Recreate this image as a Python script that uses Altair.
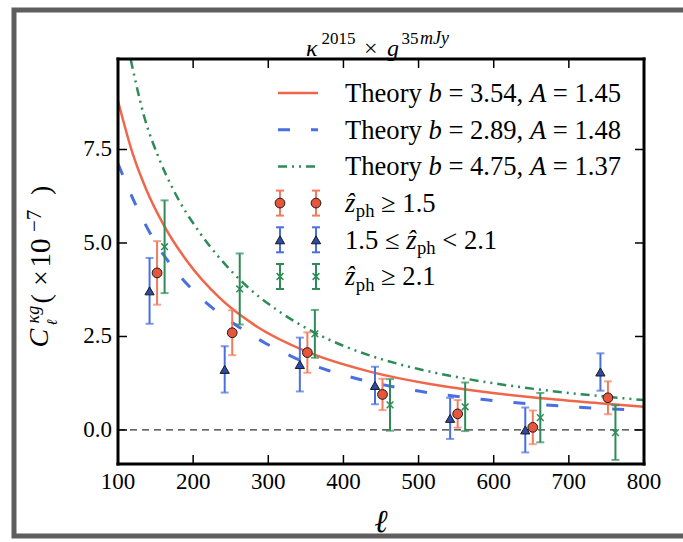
import altair as alt
import pandas as pd

# ---------------- data ----------------
ell_red = [152, 252, 352, 452, 552, 652, 752]
cl_red = [4.20, 2.60, 2.07, 0.95, 0.43, 0.07, 0.86]
err_red = [0.85, 0.60, 0.54, 0.42, 0.37, 0.45, 0.44]

ell_blue = [142, 242, 342, 442, 542, 642, 742]
cl_blue = [3.72, 1.62, 1.75, 1.19, 0.31, 0.00, 1.55]
err_blue = [0.88, 0.62, 0.72, 0.50, 0.55, 0.60, 0.50]

ell_green = [162, 262, 362, 462, 562, 662, 762]
cl_green = [4.90, 3.77, 2.57, 0.67, 0.62, 0.33, -0.07]
err_green = [1.24, 0.95, 0.64, 0.69, 0.65, 0.66, 0.73]

th_ell_red = [100, 120, 138, 162, 191, 236, 280, 353, 435, 515, 568, 657, 745, 800]
th_red = [8.80, 7.36, 6.41, 5.44, 4.54, 3.52, 2.83, 2.08, 1.56, 1.23, 1.07, 0.86, 0.71, 0.62]

th_ell_blue = [100, 125, 147, 174, 200, 236, 262, 298, 333, 380, 422, 500, 584, 713, 800]
th_blue = [7.12, 5.96, 5.11, 4.32, 3.73, 3.10, 2.74, 2.30, 1.95, 1.59, 1.35, 1.04, 0.82, 0.61, 0.52]

th_ell_green = [117, 135, 154, 174, 209, 236, 271, 313, 360, 400, 440, 500, 555, 657, 745, 800]
th_green = [9.90, 8.37, 7.29, 6.41, 5.27, 4.58, 3.85, 3.19, 2.62, 2.25, 1.96, 1.63, 1.40, 1.09, 0.90, 0.80]

x_ticks = [100, 200, 300, 400, 500, 600, 700, 800]
y_ticks = [0.0, 2.5, 5.0, 7.5]

legend_theory = [("3.54", "1.45"), ("2.89", "1.48"), ("4.75", "1.37")]

# ---------------- styling ----------------
FONT = "Liberation Serif"
W, H = 526, 405
RED, RED_ERR, RED_FILL = "#f0664a", "#f27a5f", "#e9553a"
BLUE, BLUE_FILL = "#4a6fe0", "#2c4aa6"
GREEN = "#2e8b57"
EDGE = "#1a1a1a"
DASH_BLUE = [12, 21]
DASH_GREEN = [9, 5, 2, 5, 2, 5]
X_SHAPE = "M-1,-1L1,1M-1,1L1,-1"

XS = alt.Scale(domain=[100, 800], nice=False, zero=False)
YS = alt.Scale(domain=[-0.91, 9.92], nice=False, zero=False)


def X(field="ell"):
    return alt.X(f"{field}:Q", scale=XS, axis=None)


def Y(field):
    return alt.Y(f"{field}:Q", scale=YS, axis=None)


one = pd.DataFrame({"k": [0]})
xt_df = pd.DataFrame({"ell": x_ticks})
yt_df = pd.DataFrame({"cl": y_ticks})
layers = []

# outer grey frame (screenshot border)
layers.append(alt.Chart(one).mark_rect(fillOpacity=0, stroke="#5e5e5e", strokeWidth=5).encode(
    x=alt.value(-104), x2=alt.value(620), y=alt.value(-49), y2=alt.value(477)))

# zero line
layers.append(alt.Chart(one).mark_rule(color="#333333", strokeWidth=1.2, strokeDash=[7, 5]).encode(
    x=alt.value(0), x2=alt.value(W), y=alt.datum(0, scale=YS, axis=None)))

# theory curves
def curve(ell, val, color, dash=None, width=2.5):
    df = pd.DataFrame({"ell": ell, "cl": val})
    kw = dict(color=color, strokeWidth=width, clip=True, interpolate="monotone")
    if dash:
        kw["strokeDash"] = dash
    return alt.Chart(df).mark_line(**kw).encode(x=X(), y=Y("cl"))

layers.append(curve(th_ell_red, th_red, RED))
layers.append(curve(th_ell_blue, th_blue, BLUE, DASH_BLUE, 3))
layers.append(curve(th_ell_green, th_green, GREEN, DASH_GREEN, 2.5))

# data with error bars
def series(ell, cl, err, ecolor, shape, fill, stroke, size, filled=True):
    df = pd.DataFrame({"ell": ell, "cl": cl,
                       "lo": [c - e for c, e in zip(cl, err)],
                       "hi": [c + e for c, e in zip(cl, err)]})
    base = alt.Chart(df)
    out = [
        base.mark_rule(color=ecolor, strokeWidth=2).encode(x=X(), y=Y("lo"), y2="hi:Q"),
        base.mark_tick(color=ecolor, orient="horizontal", size=8, thickness=2).encode(x=X(), y=Y("lo")),
        base.mark_tick(color=ecolor, orient="horizontal", size=8, thickness=2).encode(x=X(), y=Y("hi")),
    ]
    if filled:
        out.append(base.mark_point(shape=shape, size=size, filled=True, fill=fill, stroke=stroke,
                                   strokeWidth=1, opacity=1).encode(x=X(), y=Y("cl")))
    else:
        out.append(base.mark_point(shape=shape, size=size, filled=False, stroke=stroke,
                                   strokeWidth=1.5, opacity=1).encode(x=X(), y=Y("cl")))
    return out

layers += series(ell_red, cl_red, err_red, RED_ERR, "circle", RED_FILL, EDGE, 95)
layers += series(ell_blue, cl_blue, err_blue, BLUE, "triangle-up", BLUE_FILL, EDGE, 85)
layers += series(ell_green, cl_green, err_green, GREEN, X_SHAPE, GREEN, GREEN, 45, filled=False)

# inward ticks on all four sides
xt = alt.Chart(xt_df)
yt = alt.Chart(yt_df)
layers.append(xt.mark_rule(color="black", strokeWidth=1.5).encode(x=X(), y=alt.value(H), y2=alt.value(H - 9)))
layers.append(xt.mark_rule(color="black", strokeWidth=1.5).encode(x=X(), y=alt.value(0), y2=alt.value(9)))
layers.append(yt.mark_rule(color="black", strokeWidth=1.5).encode(y=Y("cl"), x=alt.value(0), x2=alt.value(9)))
layers.append(yt.mark_rule(color="black", strokeWidth=1.5).encode(y=Y("cl"), x=alt.value(W), x2=alt.value(W - 9)))

# tick labels (through the scales)
layers.append(xt.mark_text(font=FONT, fontSize=23, align="center", baseline="top", color="black").encode(
    x=X(), y=alt.value(H + 7), text=alt.Text("ell:Q", format="d")))
layers.append(yt.mark_text(font=FONT, fontSize=23, align="right", baseline="middle", color="black").encode(
    y=Y("cl"), x=alt.value(-6), text=alt.Text("cl:Q", format=".1f")))

# spines
SP = dict(color="black", strokeWidth=3, strokeCap="square")
layers.append(alt.Chart(one).mark_rule(**SP).encode(x=alt.value(0), x2=alt.value(W), y=alt.value(0)))
layers.append(alt.Chart(one).mark_rule(**SP).encode(x=alt.value(0), x2=alt.value(W), y=alt.value(H)))
layers.append(alt.Chart(one).mark_rule(**SP).encode(x=alt.value(0), y=alt.value(0), y2=alt.value(H)))
layers.append(alt.Chart(one).mark_rule(**SP).encode(x=alt.value(W), y=alt.value(0), y2=alt.value(H)))


# ---------------- helpers for legend / text ----------------
def txt(s, x, y, size, italic=False, angle=0, align="left"):
    kw = dict(text=s, font=FONT, fontSize=size, align=align, baseline="alphabetic", color="black")
    if italic:
        kw["fontStyle"] = "italic"
    if angle:
        kw["angle"] = angle
    return alt.Chart(one).mark_text(**kw).encode(x=alt.value(x), y=alt.value(y))


def hrule(x1, x2, y, color, width, dash=None):
    kw = dict(color=color, strokeWidth=width)
    if dash:
        kw["strokeDash"] = dash
    return alt.Chart(one).mark_rule(**kw).encode(x=alt.value(x1), x2=alt.value(x2), y=alt.value(y))


def vrule(x, y1, y2, color, width):
    return alt.Chart(one).mark_rule(color=color, strokeWidth=width).encode(
        x=alt.value(x), y=alt.value(y1), y2=alt.value(y2))


def pt(x, y, shape, size, fill, stroke, filled=True):
    if filled:
        m = alt.Chart(one).mark_point(shape=shape, size=size, filled=True, fill=fill, stroke=stroke,
                                      strokeWidth=1, opacity=1)
    else:
        m = alt.Chart(one).mark_point(shape=shape, size=size, filled=False, stroke=stroke,
                                      strokeWidth=1.5, opacity=1)
    return m.encode(x=alt.value(x), y=alt.value(y))


# x-axis title
layers.append(txt("ℓ", W / 2, 473, 32, italic=True, align="center"))

# Times / Liberation Serif advance widths (per 1000 em)
REG = {"T": 611, "h": 500, "e": 444, "o": 500, "r": 333, "y": 500, " ": 250, "=": 564,
       ".": 250, ",": 250, "≥": 549, "≤": 549, "<": 564, "p": 500}
for d in "0123456789":
    REG[d] = 500
ITA = {"b": 500, "A": 611, "ẑ": 389}


def wid(s, size, table=REG):
    return sum(table.get(c, 500) for c in s) * size / 1000.0


FS = 26.6
SUB = 18.6
LX0, LX1, TX = 160, 200, 227
row_c = [34.0 + 36.7 * i for i in range(6)]

# theory entries
line_styles = [(RED, None, 2.5), (BLUE, DASH_BLUE, 3), (GREEN, DASH_GREEN, 2.5)]
for i, ((bval, aval), (col, dash, lw)) in enumerate(zip(legend_theory, line_styles)):
    yc = row_c[i]
    yb = yc + 8.8
    layers.append(hrule(LX0, LX1, yc, col, lw, dash))
    x = TX
    layers.append(txt("Theory", x, yb, FS)); x += wid("Theory ", FS)
    layers.append(txt("b", x, yb, FS, italic=True)); x += wid("b", FS, ITA) + wid(" ", FS)
    s = "= " + bval + ","
    layers.append(txt(s, x, yb, FS)); x += wid(s + " ", FS)
    layers.append(txt("A", x, yb, FS, italic=True)); x += wid("A", FS, ITA) + wid(" ", FS)
    layers.append(txt("= " + aval, x, yb, FS))

# error-bar entries
eb_styles = [
    (RED_ERR, "circle", 95, RED_FILL, EDGE, True),
    (BLUE, "triangle-up", 85, BLUE_FILL, EDGE, True),
    (GREEN, X_SHAPE, 45, GREEN, GREEN, False),
]
for j, (ecol, shape, size, fill, stroke, filled) in enumerate(eb_styles):
    yc = row_c[3 + j]
    for xm in (162, 198):
        layers.append(vrule(xm, yc - 12.5, yc + 12.5, ecol, 2))
        layers.append(hrule(xm - 4, xm + 4, yc - 12.5, ecol, 2))
        layers.append(hrule(xm - 4, xm + 4, yc + 12.5, ecol, 2))
        layers.append(pt(xm, yc, shape, size, fill, stroke, filled))


def zph(x, yb):
    layers.append(txt("ẑ", x, yb, FS, italic=True))
    x += wid("ẑ", FS, ITA) + 0.5
    layers.append(txt("ph", x, yb + 5.5, SUB))
    return x + wid("ph", SUB) + wid(" ", FS)


yb = row_c[3] + 8.8
x = zph(TX, yb)
layers.append(txt("≥ 1.5", x, yb, FS))

yb = row_c[4] + 8.8
layers.append(txt("1.5 ≤", TX, yb, FS))
x = zph(TX + wid("1.5 ≤ ", FS), yb)
layers.append(txt("< 2.1", x, yb, FS))

yb = row_c[5] + 8.8
x = zph(TX, yb)
layers.append(txt("≥ 2.1", x, yb, FS))

# ---------------- chart title  κ^2015 × g^{35 mJy} ----------------
layers.append(txt("κ", 188, -3, 24, italic=True))
layers.append(txt("2015", 203.5, -15, 17))
layers.append(txt("×", 246, -3, 24))
layers.append(txt("g", 269, -3, 24, italic=True))
layers.append(txt("35", 283.5, -15, 17))
layers.append(txt("mJy", 302, -15, 18, italic=True))

# ---------------- y-axis title  C_ℓ^{κg} (×10^-7) ----------------
layers.append(txt("C", -70, 288.6, 28, italic=True, angle=270))
layers.append(txt("κg", -79, 264.5, 18, italic=True, angle=270))
layers.append(txt("ℓ", -61.5, 266.5, 15, italic=True, angle=270))
layers.append(txt("(", -68, 244.5, 28, angle=270))
layers.append(txt("×", -68, 227, 28, angle=270))
layers.append(txt("10", -68, 208.5, 29, angle=270))
layers.append(txt("−7", -77, 173, 21, angle=270))
layers.append(txt(")", -68, 136, 28, angle=270))

chart = alt.layer(*layers).properties(
    width=W, height=H,
    padding={"left": 118, "top": 59, "right": 39, "bottom": 78},
    autosize=alt.AutoSizeParams(type="none"),
).configure_view(strokeWidth=0).configure(background="white")

chart.save("out.html", embed_options={"renderer": "svg", "actions": False})
